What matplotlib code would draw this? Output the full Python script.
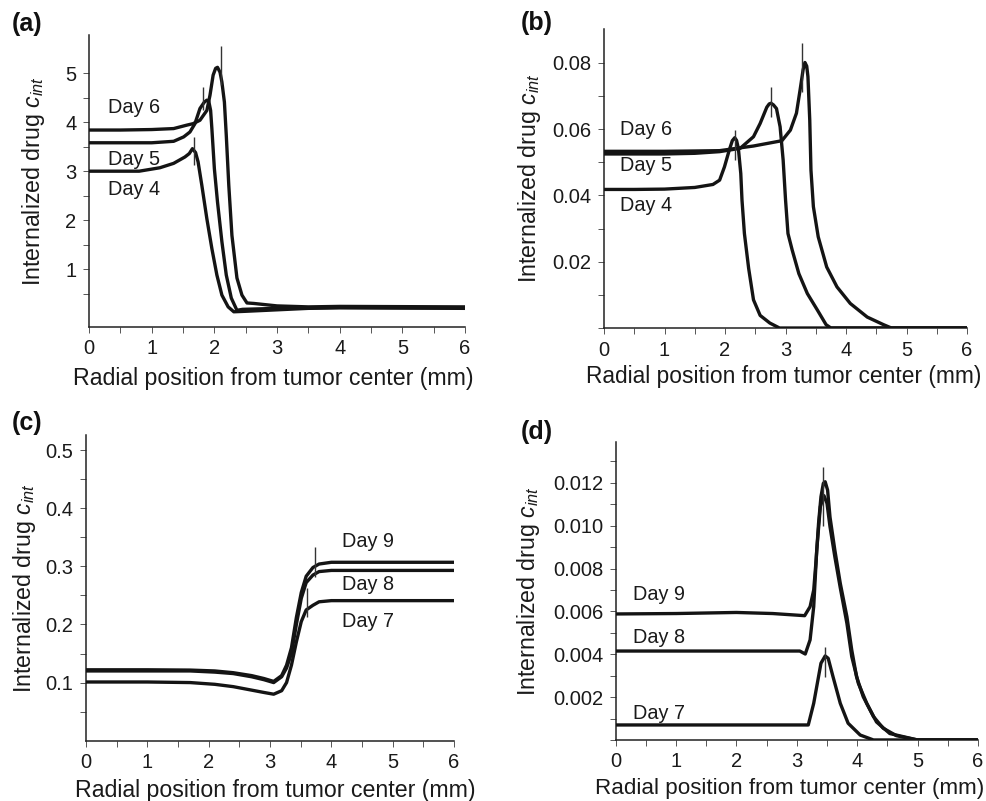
#!/usr/bin/env python3
"""
Internalized drug profiles vs radial position, four panels (a)-(d).
Saves out.png (987x801).
"""

import matplotlib
matplotlib.use("Agg")
import matplotlib.pyplot as plt
from matplotlib.ticker import FixedLocator

plt.rcParams["font.family"] = ["Liberation Sans", "DejaVu Sans"]
plt.rcParams["mathtext.fontset"] = "custom"
plt.rcParams["mathtext.rm"] = "Liberation Sans"
plt.rcParams["mathtext.it"] = "Liberation Sans:italic"

# ---- panel (a): days 4-6 ----
a_day4_x = [0, 0.4, 0.8, 1.13, 1.35, 1.53, 1.60, 1.65, 1.70, 1.74, 1.80, 1.88, 1.96, 2.04, 2.12, 2.22, 2.31, 2.5, 3.0, 3.5, 4.0, 6.0]
a_day4_y = [3.0, 3.0, 3.0, 3.07, 3.16, 3.29, 3.36, 3.46, 3.38, 3.19, 2.71, 2.03, 1.42, 0.88, 0.47, 0.23, 0.13, 0.14, 0.17, 0.2, 0.21, 0.2]
a_day5_x = [0, 0.5, 1.0, 1.35, 1.51, 1.61, 1.69, 1.77, 1.84, 1.88, 1.91, 1.94, 1.96, 2.0, 2.05, 2.12, 2.19, 2.27, 2.36, 2.45, 3.0, 4.0, 6.0]
a_day5_y = [3.58, 3.58, 3.58, 3.61, 3.70, 3.80, 3.97, 4.28, 4.41, 4.45, 4.43, 4.24, 3.87, 3.05, 2.37, 1.56, 0.88, 0.41, 0.16, 0.18, 0.2, 0.22, 0.21]
a_day6_x = [0, 0.5, 1.0, 1.35, 1.56, 1.66, 1.77, 1.88, 1.93, 1.98, 2.02, 2.05, 2.09, 2.12, 2.16, 2.19, 2.23, 2.28, 2.36, 2.44, 2.52, 2.63, 3.0, 3.5, 4.0, 6.0]
a_day6_y = [3.84, 3.84, 3.85, 3.87, 3.94, 3.97, 4.04, 4.24, 4.55, 4.96, 5.10, 5.12, 5.02, 4.82, 4.41, 3.73, 2.71, 1.69, 0.82, 0.47, 0.31, 0.30, 0.25, 0.23, 0.24, 0.23]
a_mark_x = [1.68, 1.82, 2.10]
a_mark_lo = [3.12, 4.24, 4.76]
a_mark_hi = [3.70, 4.72, 5.56]
a_labels = ["Day 6", "Day 5", "Day 4"]
a_label_y = [4.31, 3.24, 2.63]

# ---- panel (b): days 4-6 ----
b_day4_x = [0, 0.5, 1.0, 1.5, 1.8, 1.91, 1.99, 2.07, 2.12, 2.16, 2.19, 2.22, 2.26, 2.28, 2.32, 2.39, 2.47, 2.58, 2.74, 2.9, 6.0]
b_day4_y = [0.0418, 0.0418, 0.0419, 0.0424, 0.0433, 0.0446, 0.0486, 0.0537, 0.0565, 0.0574, 0.0566, 0.0542, 0.0466, 0.0386, 0.0285, 0.018, 0.0085, 0.0038, 0.0015, 0.0, 0.0]
b_day5_x = [0, 0.5, 1.0, 1.5, 1.91, 2.25, 2.47, 2.58, 2.69, 2.73, 2.76, 2.80, 2.85, 2.91, 2.96, 3.0, 3.04, 3.11, 3.22, 3.36, 3.53, 3.67, 3.75, 6.0]
b_day5_y = [0.0525, 0.0525, 0.0525, 0.0527, 0.0532, 0.0542, 0.0577, 0.0617, 0.0666, 0.0676, 0.0678, 0.0673, 0.0662, 0.0607, 0.0507, 0.0386, 0.0285, 0.0235, 0.0164, 0.0104, 0.0053, 0.001, 0.0, 0.0]
b_day6_x = [0, 0.5, 1.0, 1.5, 1.91, 2.47, 2.94, 3.08, 3.18, 3.24, 3.29, 3.32, 3.35, 3.37, 3.40, 3.42, 3.46, 3.54, 3.68, 3.85, 4.07, 4.35, 4.62, 4.75, 6.0]
b_day6_y = [0.0533, 0.0533, 0.0533, 0.0534, 0.0535, 0.0549, 0.0565, 0.0597, 0.0648, 0.0718, 0.0779, 0.0801, 0.0790, 0.0758, 0.0627, 0.0476, 0.0366, 0.0275, 0.0184, 0.0124, 0.0074, 0.0033, 0.001, 0.0, 0.0]
b_mark_x = [2.17, 2.76, 3.27]
b_mark_lo = [0.0507, 0.0637, 0.0713]
b_mark_hi = [0.0597, 0.0728, 0.0861]
b_labels = ["Day 6", "Day 5", "Day 4"]
b_label_y = [0.0599, 0.0489, 0.0371]

# ---- panel (c): days 7-9 ----
c_x = [0, 1.0, 1.7, 2.1, 2.4, 2.7, 2.9, 3.06, 3.19, 3.27, 3.35, 3.43, 3.51, 3.59, 3.70, 3.80, 4.0, 6.0]
c_day7_y = [0.101, 0.101, 0.100, 0.097, 0.093, 0.087, 0.083, 0.080, 0.086, 0.100, 0.130, 0.170, 0.205, 0.225, 0.233, 0.239, 0.241, 0.241]
c_day8_y = [0.120, 0.120, 0.120, 0.118, 0.1155, 0.110, 0.105, 0.100, 0.110, 0.125, 0.150, 0.200, 0.245, 0.272, 0.285, 0.291, 0.293, 0.293]
c_day9_y = [0.122, 0.122, 0.1215, 0.120, 0.117, 0.112, 0.107, 0.102, 0.112, 0.130, 0.160, 0.212, 0.255, 0.283, 0.298, 0.304, 0.307, 0.307]
c_mark_x = [3.61, 3.73]
c_mark_lo = [0.213, 0.282]
c_mark_hi = [0.262, 0.333]
c_labels = ["Day 9", "Day 8", "Day 7"]
c_label_y = [0.342, 0.269, 0.2056]

# ---- panel (d): days 7-9 ----
d_day7_x = [0, 1.0, 2.0, 3.0, 3.19, 3.28, 3.35, 3.40, 3.47, 3.52, 3.60, 3.72, 3.85, 4.05, 4.27, 6.0]
d_day7_y = [0.0007, 0.0007, 0.0007, 0.0007, 0.0007, 0.00171, 0.0028, 0.00358, 0.00392, 0.00381, 0.00295, 0.00171, 0.00078, 0.00023, 0.0, 0.0]
d_day8_x = [0, 1.0, 2.0, 3.05, 3.14, 3.22, 3.28, 3.33, 3.39, 3.45, 3.50, 3.55, 3.63, 3.72, 3.83, 3.91, 4.02, 4.16, 4.32, 4.54, 5.0, 6.0]
d_day8_y = [0.00415, 0.00415, 0.00415, 0.00415, 0.00401, 0.00467, 0.00622, 0.00886, 0.01089, 0.0114, 0.01104, 0.00995, 0.00855, 0.0071, 0.00544, 0.00389, 0.00264, 0.0017, 0.00084, 0.0003, 0.0, 0.0]
d_day9_x = [0, 1.0, 2.0, 2.6, 3.13, 3.22, 3.28, 3.32, 3.36, 3.40, 3.44, 3.47, 3.51, 3.55, 3.63, 3.72, 3.83, 3.91, 3.99, 4.10, 4.27, 4.43, 4.65, 5.0, 6.0]
d_day9_y = [0.00588, 0.0059, 0.00595, 0.0059, 0.0058, 0.00622, 0.0070, 0.0084, 0.0101, 0.01135, 0.01198, 0.01205, 0.01166, 0.0104, 0.00886, 0.00731, 0.00575, 0.0042, 0.00295, 0.00202, 0.00109, 0.00055, 0.0002, 0.0, 0.0]
d_mark_x = [3.44, 3.47]
d_mark_lo = [0.0100, 0.00295]
d_mark_hi = [0.01275, 0.00435]
d_labels = ["Day 9", "Day 8", "Day 7"]
d_label_y = [0.00677, 0.00479, 0.00124]

# y ticks per panel
a_yticks = [1, 2, 3, 4, 5]
a_yticklabels = ["1", "2", "3", "4", "5"]
a_yminor = [0.5, 1.5, 2.5, 3.5, 4.5]
b_yticks = [0.02, 0.04, 0.06, 0.08]
b_yticklabels = ["0.02", "0.04", "0.06", "0.08"]
b_yminor = [0.0, 0.01, 0.03, 0.05, 0.07]
c_yticks = [0.1, 0.2, 0.3, 0.4, 0.5]
c_yticklabels = ["0.1", "0.2", "0.3", "0.4", "0.5"]
c_yminor = [0.05, 0.15, 0.25, 0.35, 0.45]
d_yticks = [0.002, 0.004, 0.006, 0.008, 0.010, 0.012]
d_yticklabels = ["0.002", "0.004", "0.006", "0.008", "0.010", "0.012"]
d_yminor = [0.0, 0.001, 0.003, 0.005, 0.007, 0.009, 0.011, 0.013]

xticks = [0, 1, 2, 3, 4, 5, 6]
xminor = [0.5, 1.5, 2.5, 3.5, 4.5, 5.5]

LINE = "#141414"
XLABEL = "Radial position from tumor center (mm)"
YLABEL = r"Internalized drug $\mathit{c}_{\mathit{int}}$"
TICK_FS = 14.5
LABEL_FS = 16.7
DAY_FS = 14.3


def style_axis(ax, ylim, yticks, yticklabels, yminor, ylab_x, xlab_xy, xlab_fs):
    ax.set_xlim(0, 6)
    ax.set_ylim(*ylim)
    for side in ("top", "right"):
        ax.spines[side].set_visible(False)
    for side in ("left", "bottom"):
        ax.spines[side].set_linewidth(1.1)
        ax.spines[side].set_color("#222222")
    ax.xaxis.set_major_locator(FixedLocator(xticks))
    ax.xaxis.set_minor_locator(FixedLocator(xminor))
    ax.set_yticks(yticks)
    ax.set_yticklabels(yticklabels)
    ax.yaxis.set_minor_locator(FixedLocator(yminor))
    ax.tick_params(which="both", direction="out", length=4, width=0.7, color="#555555",
                   labelsize=TICK_FS, labelcolor="#1a1a1a")
    ax.tick_params(axis="x", which="major", pad=5)
    ax.tick_params(axis="y", which="major", pad=5)
    ax.set_xlabel(XLABEL, fontsize=xlab_fs, color="#1a1a1a")
    ax.set_ylabel(YLABEL, fontsize=LABEL_FS, color="#1a1a1a")
    ax.yaxis.set_label_coords(ylab_x, 0.5)
    ax.xaxis.set_label_coords(*xlab_xy)
    ax.xaxis.label.set_va("top")


def draw_panel(ax, curves, marks, labels, label_x, label_y):
    for xs, ys in curves:
        ax.plot(xs, ys, color=LINE, lw=2.4, solid_joinstyle="round", solid_capstyle="butt", zorder=3)
    mx, lo, hi = marks
    ax.vlines(mx, lo, hi, color="#333333", lw=1.0, zorder=4)
    for text, y in zip(labels, label_y):
        ax.text(label_x, y, text, fontsize=DAY_FS, color="#1a1a1a", va="center", ha="left")


def main():
    fig = plt.figure(figsize=(9.87, 8.01), dpi=100)

    ax_a = fig.add_axes([0.0902, 0.5918, 0.381, 0.3645])
    ax_b = fig.add_axes([0.612, 0.5905, 0.3678, 0.3733])
    ax_c = fig.add_axes([0.0871, 0.0753, 0.3729, 0.3816])
    ax_d = fig.add_axes([0.6238, 0.0762, 0.367, 0.3724])

    draw_panel(ax_a, [(a_day4_x, a_day4_y), (a_day5_x, a_day5_y), (a_day6_x, a_day6_y)],
               (a_mark_x, a_mark_lo, a_mark_hi), a_labels, 0.30, a_label_y)
    style_axis(ax_a, (-0.18, 5.78), a_yticks, a_yticklabels, a_yminor, -0.112, (0.49, -0.137), 16.7)

    draw_panel(ax_b, [(b_day4_x, b_day4_y), (b_day5_x, b_day5_y), (b_day6_x, b_day6_y)],
               (b_mark_x, b_mark_lo, b_mark_hi), b_labels, 0.26, b_label_y)
    style_axis(ax_b, (0, 0.0902), b_yticks, b_yticklabels, b_yminor, -0.168, (0.495, -0.125), 16.4)

    draw_panel(ax_c, [(c_x, c_day7_y), (c_x, c_day8_y), (c_x, c_day9_y)],
               (c_mark_x, c_mark_lo, c_mark_hi), c_labels, 4.17, c_label_y)
    style_axis(ax_c, (0, 0.526), c_yticks, c_yticklabels, c_yminor, -0.130, (0.514, -0.125), 16.7)

    draw_panel(ax_d, [(d_day7_x, d_day7_y), (d_day8_x, d_day8_y), (d_day9_x, d_day9_y)],
               (d_mark_x, d_mark_lo, d_mark_hi), d_labels, 0.28, d_label_y)
    style_axis(ax_d, (0, 0.01392), d_yticks, d_yticklabels, d_yminor, -0.204, (0.481, -0.128), 16.1)

    # panel letters
    for letter, x_px, y_px in [("(a)", 12, 24), ("(b)", 521, 23), ("(c)", 12, 423), ("(d)", 521, 432)]:
        fig.text(x_px / 987, 1 - y_px / 801, letter, fontsize=18, fontweight="bold",
                 va="center", ha="left", color="#111111")

    fig.savefig("out.png", dpi=100)
    plt.close(fig)


if __name__ == "__main__":
    main()
